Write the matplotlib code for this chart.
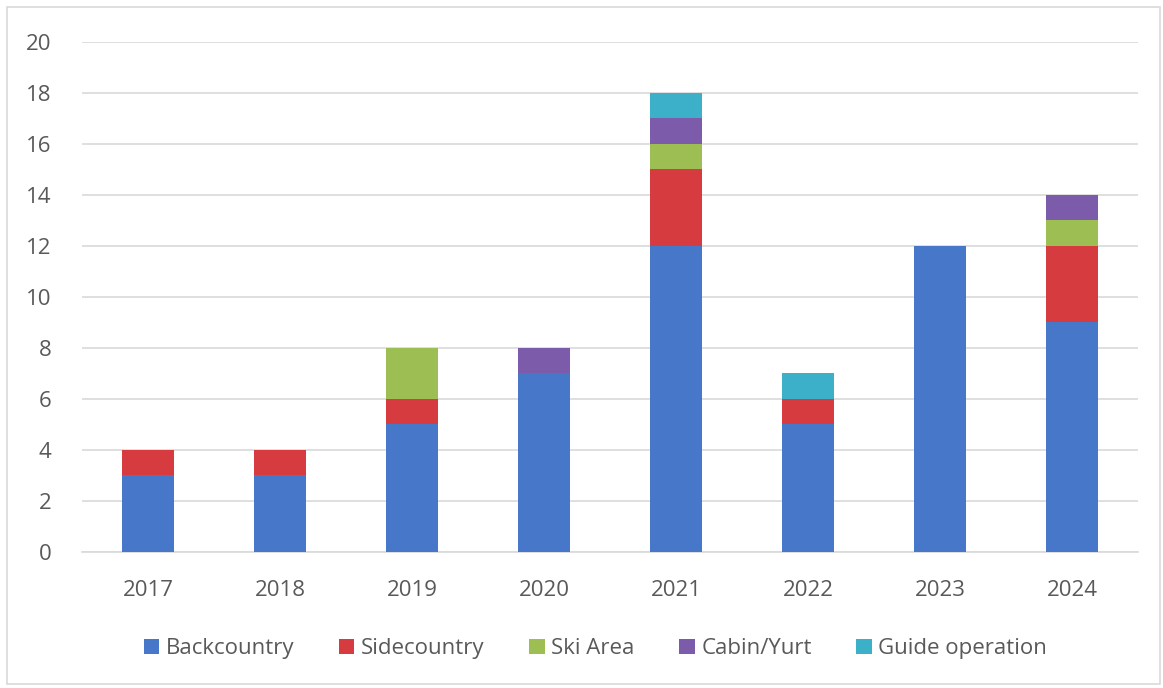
import numpy as np
import matplotlib.pyplot as plt
from matplotlib.patches import Rectangle

years = ["2017", "2018", "2019", "2020", "2021", "2022", "2023", "2024"]
backcountry = [3, 3, 5, 7, 12, 5, 12, 9]
sidecountry = [1, 1, 1, 0, 3, 1, 0, 3]
ski_area = [0, 0, 2, 0, 1, 0, 0, 1]
cabin_yurt = [0, 0, 0, 1, 1, 0, 0, 1]
guide_op = [0, 0, 0, 0, 1, 1, 0, 0]

series = [
    ("Backcountry", backcountry, "#4677C8"),
    ("Sidecountry", sidecountry, "#D63C3F"),
    ("Ski Area", ski_area, "#9DBE52"),
    ("Cabin/Yurt", cabin_yurt, "#7B5BAA"),
    ("Guide operation", guide_op, "#3CB0C9"),
]

plt.rcParams["font.family"] = ["Open Sans", "DejaVu Sans"]

fig = plt.figure(figsize=(11.63, 6.88), dpi=100)
ax = fig.add_axes([0.0705, 0.198, 0.908, 0.741])

x = np.arange(len(years))
bottom = np.zeros(len(years))
for name, vals, col in series:
    v = np.array(vals, dtype=float)
    ax.bar(x, v, 0.4, bottom=bottom, color=col, label=name, zorder=3)
    bottom += v

ax.set_ylim(0, 20)
ax.set_xlim(-0.5, len(years) - 0.5)
ax.set_yticks(range(0, 21, 2))
ax.set_xticks(x)
ax.set_xticklabels(years)
ax.grid(axis="y", color="#D9D9D9", linewidth=1.2, zorder=0)
for s in ["top", "right", "left"]:
    ax.spines[s].set_visible(False)
ax.spines["bottom"].set_color("#D9D9D9")
ax.spines["bottom"].set_linewidth(1.2)
ax.tick_params(axis="both", length=0, labelsize=16, colors="#595959")
ax.tick_params(axis="x", pad=20)
ax.tick_params(axis="y", pad=22)

leg = fig.legend(loc="center", bbox_to_anchor=(0.512, 0.057), ncol=5, frameon=False,
                 fontsize=16, handlelength=0.7, handleheight=0.7, handletextpad=0.3,
                 columnspacing=2.0, labelcolor="#595959")

fig.patches.append(Rectangle((0.006, 0.006), 0.991, 0.984, transform=fig.transFigure,
                             fill=False, edgecolor="#D9D9D9", linewidth=1.2))

fig.savefig("out.png", dpi=100)
